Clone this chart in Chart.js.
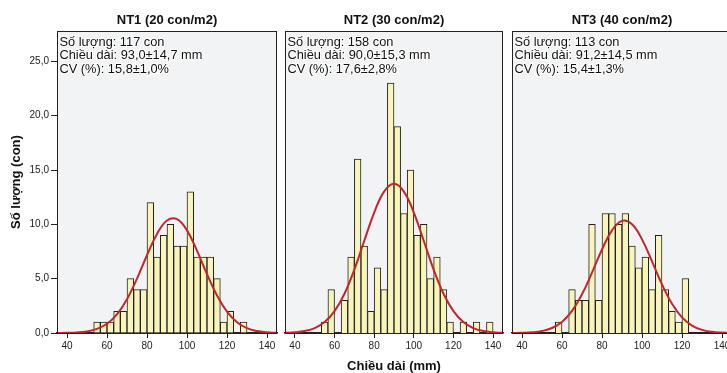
<!DOCTYPE html>
<html><head><meta charset="utf-8">
<script src="https://cdn.jsdelivr.net/npm/chart.js@4"></script>
<style>
html,body{margin:0;padding:0;background:#fff;overflow:hidden;}
#wrap{position:relative;width:727px;height:373px;overflow:hidden;}
canvas{position:absolute;top:0;}
</style></head><body>
<div id="wrap">
<canvas id="c1" width="282" height="373" style="left:0px"></canvas>
<canvas id="c2" width="230" height="373" style="left:280px"></canvas>
<canvas id="c3" width="240" height="373" style="left:505px"></canvas>
</div>
<script>
// ---- data ----
const panelTitles = ['NT1 (20 con/m2)', 'NT2 (30 con/m2)', 'NT3 (40 con/m2)'];
const stats1 = ['Số lượng: 117 con', 'Chiều dài: 93,0±14,7 mm', 'CV (%): 15,8±1,0%'];
const stats2 = ['Số lượng: 158 con', 'Chiều dài: 90,0±15,3 mm', 'CV (%): 17,6±2,8%'];
const stats3 = ['Số lượng: 113 con', 'Chiều dài: 91,2±14,5 mm', 'CV (%): 15,4±1,3%'];
const xTitle = 'Chiều dài (mm)';
const yTitle = 'Số lượng (con)';

// histogram bin centres (mm), bin width 10/3 mm
const binMid = [55, 58.33, 61.67, 65, 68.33, 71.67, 75, 78.33, 81.67, 85, 88.33, 91.67, 95,
                98.33, 101.67, 105, 108.33, 111.67, 115, 118.33, 121.67, 125, 128.33, 131.67, 135, 138.33];
const counts1 = [1, 1, 1, 2, 2, 5, 4, 4, 12, 7, 9, 10, 8, 8, 13, 7, 7, 7, 5, 1, 2, 0, 1, 0, 0, 0];
const counts2 = [1, 4, 0, 3, 7, 16, 8, 2, 6, 4, 23, 19, 11, 15, 9, 10, 5, 7, 4, 1, 0, 1, 0, 1, 0, 1];
const counts3 = [0, 1, 0, 4, 3, 3, 10, 3, 11, 11, 10, 11, 8, 6, 7, 4, 9, 4, 2, 1, 5, 0, 0, 0, 0, 0];

// normal curve
const curveX = [35, 40, 45, 50, 55, 60, 65, 70, 75, 80, 85, 90, 95, 100, 105, 110, 115, 120, 125, 130, 135, 140, 145];
const curve1 = [0.004, 0.016, 0.051, 0.147, 0.374, 0.851, 1.725, 3.11, 5.00, 7.16, 9.12, 10.36, 10.48, 9.45, 7.58, 5.42, 3.45, 1.96, 0.99, 0.445, 0.179, 0.064, 0.020];
const curve2 = [0.021, 0.066, 0.182, 0.450, 1.004, 2.01, 3.61, 5.84, 8.49, 11.09, 13.02, 13.73, 13.02, 11.09, 8.49, 5.84, 3.61, 2.01, 1.004, 0.450, 0.182, 0.066, 0.021];
const curve3 = [0.006, 0.020, 0.065, 0.183, 0.459, 1.02, 2.03, 3.56, 5.55, 7.69, 9.45, 10.32, 10.01, 8.62, 6.59, 4.47, 2.69, 1.44, 0.685, 0.289, 0.108, 0.036, 0.011];

const xTicks = [40, 60, 80, 100, 120, 140];
const yTicks = [0, 5, 10, 15, 20, 25];

// ---- drawing ----
Chart.defaults.font.family = "'Liberation Sans', Arial, sans-serif";
const INK = '#222';

const framePlugin = {
  id: 'frame',
  beforeDraw(chart) {
    const {ctx, chartArea: a} = chart;
    ctx.save();
    ctx.fillStyle = '#F2F3F5';
    ctx.fillRect(a.left, a.top, a.right - a.left, a.bottom - a.top);
    ctx.restore();
  },
  afterDraw(chart) {
    const {ctx, chartArea: a} = chart;
    ctx.save();
    ctx.strokeStyle = INK;
    ctx.lineWidth = 1;
    ctx.strokeRect(Math.round(a.left) + 0.5, Math.round(a.top) + 0.5,
                   Math.round(a.right - a.left) - 1, Math.round(a.bottom - a.top));
    const lines = chart.options.plugins.frame.lines || [];
    ctx.font = "12.8px 'Liberation Sans', Arial, sans-serif";
    ctx.textBaseline = 'middle';
    ctx.textAlign = 'left';
    lines.forEach((t, i) => {
      const x = a.left + 2.5, y = a.top + 11.5 + i * 13.3;
      ctx.strokeStyle = 'rgba(255,255,255,0.9)';
      ctx.lineWidth = 2;
      ctx.strokeText(t, x, y);
      ctx.fillStyle = '#111';
      ctx.fillText(t, x, y);
    });
    ctx.restore();
  }
};

function makeChart(id, idx, counts, curve, lines, padL, padR) {
  return new Chart(document.getElementById(id), {
    type: 'bar',
    data: {
      datasets: [
        {
          type: 'line',
          data: curveX.map((x, i) => ({x: x, y: curve[i]})),
          borderColor: '#C3262B', borderWidth: 2, pointRadius: 0,
          tension: 0.4, fill: false, order: 1
        },
        {
          type: 'bar',
          data: binMid.map((x, i) => ({x: x, y: counts[i] ? counts[i] : null})),
          backgroundColor: '#F8F4BA', borderColor: INK, borderWidth: 1,
          barPercentage: 1, categoryPercentage: 1, order: 2
        }
      ]
    },
    options: {
      responsive: false,
      animation: false,
      layout: {padding: {left: padL, right: padR, top: 0, bottom: 0}},
      plugins: {
        legend: {display: false},
        tooltip: {enabled: false},
        title: {
          display: true, text: panelTitles[idx], fullSize: false,
          font: {size: 13, weight: 'bold'}, color: '#111',
          padding: {top: 12.8, bottom: 2.6}
        },
        frame: {lines: lines}
      },
      scales: {
        x: {
          type: 'linear', min: 35, max: 145, offset: false,
          afterBuildTicks: s => { s.ticks = xTicks.map(v => ({value: v})); },
          ticks: {font: {size: 10}, color: INK, padding: 2, maxRotation: 0, autoSkip: false},
          grid: {display: true, offset: false, drawOnChartArea: false, drawTicks: true, tickLength: 5, color: INK},
          border: {display: true, color: INK, width: 1.5},
          title: idx === 1
            ? {display: true, text: xTitle, font: {size: 13, weight: 'bold'}, color: '#111', padding: {top: 0, bottom: -1}}
            : {display: false},
          afterFit: s => { s.height = 40; }
        },
        y: {
          display: idx === 0,
          min: 0, max: 27.8,
          afterBuildTicks: s => { s.ticks = yTicks.map(v => ({value: v})); },
          ticks: {font: {size: 10}, color: INK, padding: 2,
                  callback: v => Number(v).toFixed(1).replace('.', ',')},
          grid: {display: true, drawOnChartArea: false, drawTicks: true, tickLength: 6, color: INK},
          border: {display: true, color: INK, width: 1},
          title: {display: true, text: yTitle, font: {size: 13, weight: 'bold'}, color: '#111',
                  padding: {top: 8.7, bottom: 0}},
          afterFit: s => { if (idx === 0) { s.width = 57; } }
        }
      }
    },
    plugins: [framePlugin]
  });
}

makeChart('c1', 0, counts1, curve1, stats1, 0, 5);
makeChart('c2', 1, counts2, curve2, stats2, 5, 7);
makeChart('c3', 2, counts3, curve3, stats3, 7, 13);
</script>
</body></html>
